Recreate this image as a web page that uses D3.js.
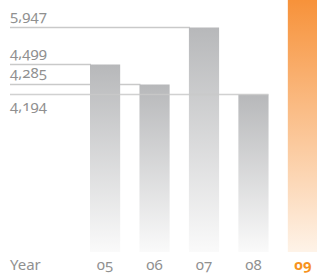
<!DOCTYPE html>
<html>
<head>
<meta charset="utf-8">
<script src="https://cdn.jsdelivr.net/npm/d3@7"></script>
<style>
  html, body { margin: 0; padding: 0; background: #fff; }
  svg text { font-family: "Noto Sans", "Open Sans", sans-serif; font-variant-numeric: oldstyle-nums; font-feature-settings: "onum" 1; }
  .valLabel { fill: #909090; font-size: 15px; }
  .tick { fill: #909090; font-size: 15px; }
  .tick.current { fill: #f7931e; font-weight: bold; }
  .guide { stroke: #c9c9c9; stroke-width: 1.5; }
</style>
</head>
<body>
<div id="chart"></div>
<script>
"use strict"

// fiscal years shown on the x axis
let years = ["05", "06", "07", "08", "09"];
// values per year; 09 has no printed value and runs off the top
let values = [4499, 4285, 5947, 4194, 6800];
let valueLabels = ["4,499", "4,285", "5,947", "4,194", ""];
let axisTitle = "Year";

let totalWidth = 317, totalHeight = 275;
let margin = { left: 10, right: 0, top: 0, bottom: 23 };
let baseY = 252;

let svg = d3.select("#chart").append("svg")
	.attr("width", totalWidth)
	.attr("height", totalHeight);

let defs = svg.append("defs");
let grey = defs.append("linearGradient").attr("id", "greyFade")
	.attr("x1", 0).attr("y1", 0).attr("x2", 0).attr("y2", 1);
grey.append("stop").attr("offset", "0%").attr("stop-color", "#b7b8ba");
grey.append("stop").attr("offset", "100%").attr("stop-color", "#fafafa");

let orange = defs.append("linearGradient").attr("id", "orangeFade")
	.attr("x1", 0).attr("y1", 0).attr("x2", 0).attr("y2", 1);
orange.append("stop").attr("offset", "0%").attr("stop-color", "#f7923a");
orange.append("stop").attr("offset", "100%").attr("stop-color", "#fef3e8");

let xScale = d3.scaleBand()
	.domain(years)
	.range([90, 318])
	.paddingInner(0.39)
	.paddingOuter(0);

// the printed chart is not drawn to scale, so keep its stretched value axis
let yScale = d3.scaleLinear()
	.domain([0, 4194, 4285, 4499, 5947, 6800])
	.range([baseY, 94.5, 84.5, 64.5, 27.5, 0]);

let data = years.map((y, i) => ({ year: y, value: values[i], label: valueLabels[i] }));
let labelled = data.filter(d => d.label !== "");

// guide lines behind the bars, from the left edge to the bar they belong to
let lowest = d3.min(labelled, d => d.value);
svg.append("g").selectAll("line")
	.data(labelled.filter(d => d.value !== lowest))
	.enter().append("line")
		.attr("class", "guide")
		.attr("x1", margin.left)
		.attr("x2", d => xScale(d.year) + 1)
		.attr("y1", d => yScale(d.value))
		.attr("y2", d => yScale(d.value));

svg.append("g").selectAll("rect")
	.data(data)
	.enter().append("rect")
		.attr("x", d => xScale(d.year))
		.attr("y", d => yScale(d.value))
		.attr("width", xScale.bandwidth())
		.attr("height", d => yScale(0) - yScale(d.value))
		.attr("fill", (d, i) => i === data.length - 1 ? "url(#orangeFade)" : "url(#greyFade)");

// the lowest guide runs over the bars
svg.append("g").selectAll("line")
	.data(labelled.filter(d => d.value === lowest))
	.enter().append("line")
		.attr("class", "guide")
		.attr("stroke-opacity", 0.85)
		.attr("x1", margin.left)
		.attr("x2", d => xScale(d.year) + xScale.bandwidth())
		.attr("y1", d => yScale(d.value))
		.attr("y2", d => yScale(d.value));

svg.append("g").selectAll("text")
	.data(labelled)
	.enter().append("text")
		.attr("class", "valLabel")
		.attr("x", margin.left)
		.attr("y", d => d.value === lowest ? yScale(d.value) + 16 : yScale(d.value) - 7)
		.text(d => d.label);

let xAxis = svg.append("g").attr("class", "x_ticks");
xAxis.selectAll("text")
	.data(years)
	.enter().append("text")
		.attr("class", (d, i) => i === years.length - 1 ? "tick current" : "tick")
		.attr("x", d => xScale(d) + xScale.bandwidth() / 2)
		.attr("y", totalHeight - 5)
		.attr("text-anchor", "middle")
		.text(d => d);

xAxis.append("text")
	.attr("class", "tick")
	.attr("x", margin.left)
	.attr("y", totalHeight - 5)
	.text(axisTitle);
</script>
</body>
</html>
